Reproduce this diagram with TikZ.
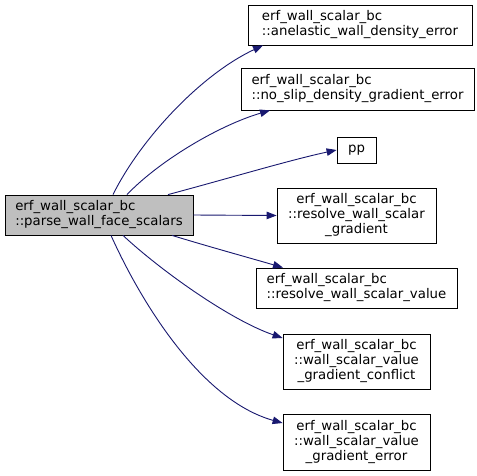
\documentclass[tikz,border=0pt]{standalone}
\usepackage{fontspec}
\setmainfont{DejaVu Sans}
\usetikzlibrary{arrows.meta}
\definecolor{edgeblue}{HTML}{191970}
\definecolor{maingray}{HTML}{BFBFBF}
\begin{document}
\begin{tikzpicture}[x=1pt,y=-1pt,
  box/.style={draw=black,line width=0.8pt,inner sep=0pt,font=\fontsize{13.3}{15}\selectfont},
  call/.style={draw=edgeblue,line width=0.9pt,-{Triangle[length=10pt,width=7.5pt]},fill=none}]
\useasboundingbox[fill=white] (0,0) rectangle (477,475);
\node[box,fill=maingray,minimum width=188pt,minimum height=40pt,align=left] (main) at (99,215) {erf\_wall\_scalar\_bc\\::parse\_wall\_face\_scalars};
\node[box,minimum width=224pt,minimum height=40pt,align=left] (n1) at (360,25) {erf\_wall\_scalar\_bc\\::anelastic\_wall\_density\_error};
\node[box,minimum width=233pt,minimum height=42pt,align=left] (n2) at (357.5,89) {erf\_wall\_scalar\_bc\\::no\_slip\_density\_gradient\_error};
\node[box,minimum width=39pt,minimum height=26pt] (pp) at (356.5,150) {pp};
\node[box,minimum width=159pt,minimum height=55pt,align=center] (n4) at (356.5,215.5) {erf\_wall\_scalar\_bc\\::resolve\_wall\_scalar\\\_gradient};
\node[box,minimum width=201pt,minimum height=40pt,align=left] (n5) at (356.5,288) {erf\_wall\_scalar\_bc\\::resolve\_wall\_scalar\_value};
\node[box,minimum width=147pt,minimum height=55pt,align=center] (n6) at (356.5,361.5) {erf\_wall\_scalar\_bc\\::wall\_scalar\_value\\\_gradient\_conflict};
\node[box,minimum width=147pt,minimum height=56pt,align=center] (n7) at (356.5,442) {erf\_wall\_scalar\_bc\\::wall\_scalar\_value\\\_gradient\_error};

\draw[call] ([xshift=14pt]main.north) .. controls (140,140) and (200,75) .. ([xshift=-97pt]n1.south);
\draw[call] ([xshift=28pt]main.north) .. controls (160,160) and (220,125) .. ([xshift=-87.5pt]n2.south);
\draw[call] ([xshift=69pt]main.north) .. controls (230,178) and (290,160) .. (pp.west);
\draw[call] (main.east) -- (n4.west);
\draw[call] ([xshift=73pt]main.south) .. controls (210,247) and (250,258) .. ([xshift=-73.5pt]n5.north);
\draw[call] ([xshift=24pt]main.south) .. controls (160,270) and (230,320) .. ([yshift=23.5pt]n6.west);
\draw[call] ([xshift=12pt]main.south) .. controls (140,300) and (200,400) .. ([yshift=19pt]n7.west);
\end{tikzpicture}
\end{document}
